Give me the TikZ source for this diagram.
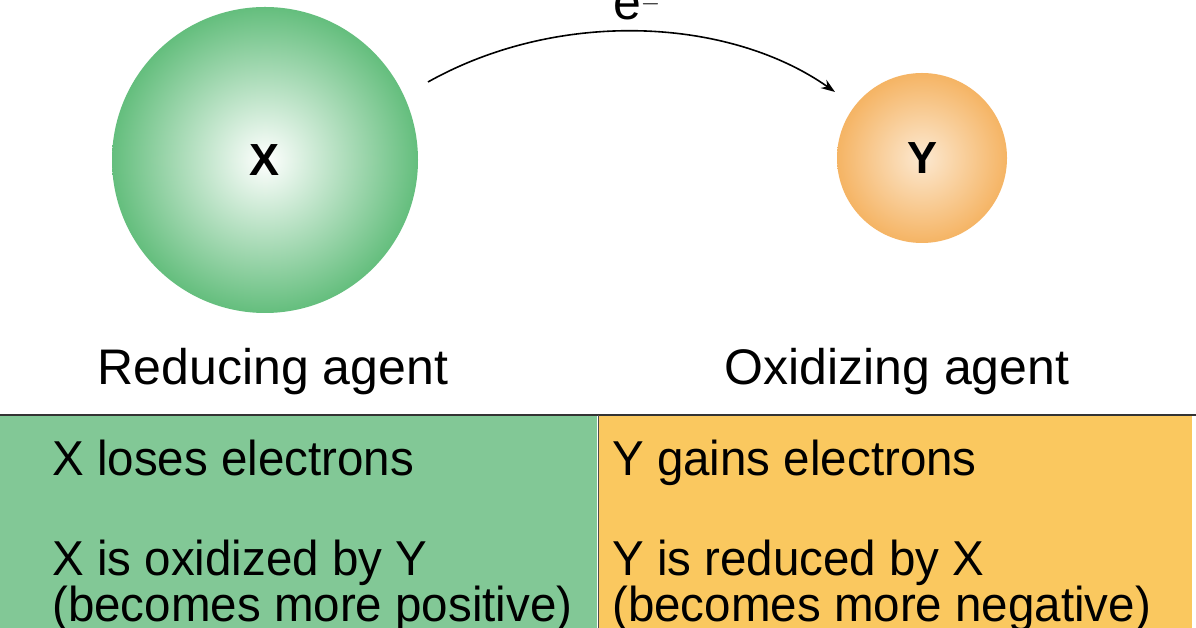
\documentclass[tikz,border=0pt]{standalone}
\usepackage{fontspec}
\setmainfont{Liberation Sans}
\usetikzlibrary{arrows.meta}
\definecolor{agreen}{RGB}{130,200,150}
\definecolor{agreendk}{RGB}{100,190,125}
\definecolor{aorange}{RGB}{250,200,95}
\definecolor{aorangedk}{RGB}{245,180,100}
\tikzset{
  big/.style={font=\fontsize{50}{58}\selectfont, inner sep=0pt},
  cell/.style={font=\fontsize{49}{56}\selectfont, anchor=base west, inner sep=0pt, xscale=0.97},
  atom/.style={circle, inner sep=0pt, font=\fontsize{45}{52}\selectfont\bfseries}
}
\begin{document}
\begin{tikzpicture}[x=1pt,y=1pt]
  \useasboundingbox (0,0) rectangle (1196,628);
  \fill[white] (0,0) rectangle (1196,628);

  % the two columns
  \fill[agreen] (0,0) rectangle (597,213);
  \fill[aorange] (599,0) rectangle (1192,213);
  \draw[line width=2.5pt, black!80] (0,213) -- (1196,213);
  \draw[line width=1pt, black!70] (598,0) -- (598,213);

  % atoms
  \node[atom, minimum size=306pt, shading=radial, inner color=white, outer color=agreendk] (X) at (265,468) {X};
  \node[atom, minimum size=170pt, shading=radial, inner color=white!70!aorangedk, outer color=aorangedk] (Y) at (922,470) {Y};

  \node[big, anchor=base] (red) at (273,243) {Reducing agent};
  \node[big, anchor=base] (ox) at (897,243) {Oxidizing agent};

  % electron transfer
  \coordinate (s) at (428,546);
  \coordinate (t) at (835,536);
  \draw[line width=1.6pt, -{Stealth[length=14pt,width=10pt]}] (s) .. controls (560,620) and (730,610) .. (t);
  \node[big, anchor=base] (e) at (637,608) {e$^{-}$};

  % cell texts
  \node[cell] (xl) at (52,152) {X loses electrons};
  \node[cell] (xo) at (52,52) {X is oxidized by Y};
  \node[cell] (xp) at (52,6) {(becomes more positive)};
  \node[cell] (yg) at (612,152) {Y gains electrons};
  \node[cell] (yr) at (612,52) {Y is reduced by X};
  \node[cell] (yn) at (612,6) {(becomes more negative)};
\end{tikzpicture}
\end{document}
